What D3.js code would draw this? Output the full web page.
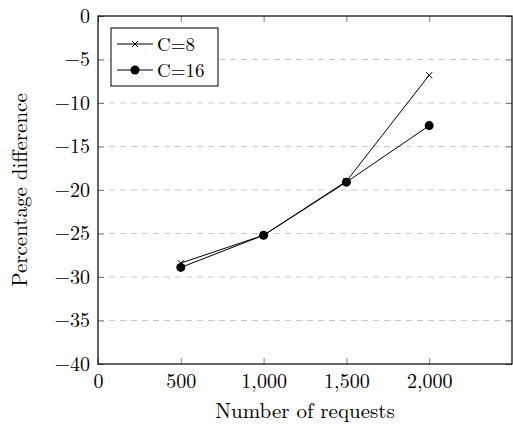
<!DOCTYPE html>
<html>
<head>
<meta charset="utf-8">
<script src="https://cdn.jsdelivr.net/npm/d3@7"></script>
<style>
  body { margin: 0; background: #fff; }
  text { font-family: "Latin Modern Roman", "Liberation Serif", serif; fill: #000; }
</style>
</head>
<body>
<svg id="chart" width="513" height="424"></svg>
<script>
var requests = [500, 1000, 1500, 2000];
var c8 = [-28.4, -25.2, -19.0, -6.8];
var c16 = [-28.9, -25.2, -19.1, -12.6];
var seriesNames = ['C=8', 'C=16'];
var xTicks = [0, 500, 1000, 1500, 2000];
var yTicks = [0, -5, -10, -15, -20, -25, -30, -35, -40];

var margin = { top: 16, right: 1, bottom: 60, left: 98 };
var width = 513 - margin.left - margin.right;
var height = 424 - margin.top - margin.bottom;

var svg = d3.select('#chart').append('g')
  .attr('transform', 'translate(' + margin.left + ', ' + margin.top + ')');

var xScale = d3.scaleLinear().domain([0, 2500]).range([0, width]);
var yScale = d3.scaleLinear().domain([-40, 0]).range([height, 0]);

// dashed grid on y ticks
svg.selectAll('.grid')
  .data(yTicks.slice(1, -1))
  .enter().append('line')
  .attr('x1', 0).attr('x2', width)
  .attr('y1', function (d) { return yScale(d); })
  .attr('y2', function (d) { return yScale(d); })
  .attr('stroke', '#c8c8c8')
  .attr('stroke-width', 1)
  .attr('stroke-dasharray', '6,5');

// axes, ticks pointing inward
var fmt = function (d) { return d3.format(',')(d).replace('-', '\u2212'); };
var xAxis = d3.axisBottom(xScale).tickValues(xTicks).tickFormat(fmt).tickSizeInner(-6).tickSizeOuter(0).tickPadding(10);
var yAxis = d3.axisLeft(yScale).tickValues(yTicks).tickFormat(fmt).tickSizeInner(-6).tickSizeOuter(0).tickPadding(8);
var xTop = d3.axisTop(xScale).tickValues(xTicks).tickFormat('').tickSizeInner(-6).tickSizeOuter(0);
var yRight = d3.axisRight(yScale).tickValues(yTicks).tickFormat('').tickSizeInner(-6).tickSizeOuter(0);

function styleAxis(g) {
  g.select('.domain').remove();
  g.selectAll('.tick line').attr('stroke', '#808080');
  g.selectAll('.tick text').style('font-size', '20px').attr('fill', '#000');
}

svg.append('g').attr('transform', 'translate(0, ' + height + ')').call(xAxis).call(styleAxis);
svg.append('g').call(yAxis).call(styleAxis);
svg.append('g').call(xTop).call(styleAxis);
svg.append('g').attr('transform', 'translate(' + width + ', 0)').call(yRight).call(styleAxis);

svg.append('rect')
  .attr('x', 0).attr('y', 0)
  .attr('width', width).attr('height', height)
  .attr('fill', 'none').attr('stroke', '#000').attr('stroke-width', 1.2);

var line = d3.line()
  .x(function (d, i) { return xScale(requests[i]); })
  .y(function (d) { return yScale(d); });

svg.append('path').datum(c8).attr('d', line)
  .attr('fill', 'none').attr('stroke', '#000').attr('stroke-width', 1);
svg.append('path').datum(c16).attr('d', line)
  .attr('fill', 'none').attr('stroke', '#000').attr('stroke-width', 1);

function cross(g, x, y) {
  g.append('path')
    .attr('d', 'M' + (x - 3) + ',' + (y - 3) + 'L' + (x + 3) + ',' + (y + 3) +
      'M' + (x - 3) + ',' + (y + 3) + 'L' + (x + 3) + ',' + (y - 3))
    .attr('stroke', '#000').attr('stroke-width', 1);
}

c8.forEach(function (d, i) { cross(svg, xScale(requests[i]), yScale(d)); });

svg.selectAll('.dot')
  .data(c16)
  .enter().append('circle')
  .attr('cx', function (d, i) { return xScale(requests[i]); })
  .attr('cy', function (d) { return yScale(d); })
  .attr('r', 4.5)
  .attr('fill', '#000');

// legend
var legend = svg.append('g').attr('transform', 'translate(13, 12)');
legend.append('rect')
  .attr('width', 107).attr('height', 58)
  .attr('fill', '#fff').attr('stroke', '#000').attr('stroke-width', 1);
seriesNames.forEach(function (name, i) {
  var y = 16 + i * 26;
  legend.append('line').attr('x1', 6).attr('x2', 42).attr('y1', y).attr('y2', y)
    .attr('stroke', '#000').attr('stroke-width', 1);
  if (i === 0) {
    cross(legend, 24, y);
  } else {
    legend.append('circle').attr('cx', 24).attr('cy', y).attr('r', 4.5).attr('fill', '#000');
  }
  legend.append('text').attr('x', 46).attr('y', y).attr('dy', '0.35em')
    .style('font-size', '19px').text(name);
});

svg.append('text')
  .attr('x', width / 2)
  .attr('y', height + 54)
  .attr('text-anchor', 'middle')
  .style('font-size', '21px')
  .text('Number of requests');

svg.append('text')
  .attr('transform', 'rotate(-90)')
  .attr('x', -height / 2)
  .attr('y', -71)
  .attr('text-anchor', 'middle')
  .style('font-size', '21px')
  .text('Percentage difference');
</script>
</body>
</html>
